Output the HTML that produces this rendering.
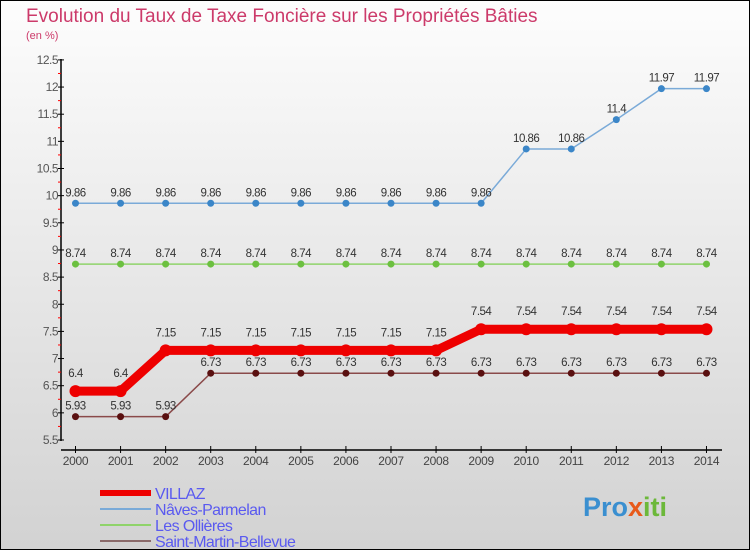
<!DOCTYPE html>
<html><head><meta charset="utf-8"><style>
body{margin:0}
#c{width:750px;height:550px;position:relative;overflow:hidden}
text{font-family:"Liberation Sans",sans-serif}
</style></head><body>
<div id="c">
<svg id="s" width="750" height="550" xmlns="http://www.w3.org/2000/svg">
<defs><linearGradient id="bg" x1="0" y1="0" x2="0" y2="1"><stop offset="0" stop-color="#fdfdfd"/><stop offset="1" stop-color="#d2d2d2"/></linearGradient></defs>
<rect x="0.5" y="0.5" width="749" height="549" fill="url(#bg)" stroke="#000"/>
<text x="26" y="22" font-size="19" fill="#cc3a6a">Evolution du Taux de Taxe Foncière sur les Propriétés Bâties</text>
<text x="26" y="39" font-size="11" fill="#cc3a6a">(en %)</text>
<g id="axes"></g><g id="series"></g><g id="legend"></g>
<text x="583" y="516" font-size="27" font-weight="bold" fill="#3a8fd0">Pro<tspan fill="#e85a1a">x</tspan><tspan fill="#6cb83a">iti</tspan></text>
</svg></div>
<script>
const years=[2000,2001,2002,2003,2004,2005,2006,2007,2008,2009,2010,2011,2012,2013,2014];
const villaz=[6.4,6.4,7.15,7.15,7.15,7.15,7.15,7.15,7.15,7.54,7.54,7.54,7.54,7.54,7.54];
const naves=[9.86,9.86,9.86,9.86,9.86,9.86,9.86,9.86,9.86,9.86,10.86,10.86,11.4,11.97,11.97];
const ollieres=[8.74,8.74,8.74,8.74,8.74,8.74,8.74,8.74,8.74,8.74,8.74,8.74,8.74,8.74,8.74];
const stmartin=[5.93,5.93,5.93,6.73,6.73,6.73,6.73,6.73,6.73,6.73,6.73,6.73,6.73,6.73,6.73];
const yTicks=[5.5,6,6.5,7,7.5,8,8.5,9,9.5,10,10.5,11,11.5,12,12.5];
const NS="http://www.w3.org/2000/svg";
function xs(i){return 75.5+i*45.07;}
function ys(v){return 440-(v-5.5)*54.3;}
function mk(tag,at,p){const e=document.createElementNS(NS,tag);for(const k in at)e.setAttribute(k,at[k]);p.appendChild(e);return e;}
const ax=document.getElementById('axes');
let yl=mk('line',{x1:61,y1:59,x2:61,y2:441,stroke:'#000','stroke-width':1.5},ax);


yTicks.forEach((v,i)=>{
 const t=mk('line',{x1:58,y1:ys(v),x2:64,y2:ys(v),stroke:'#000'},ax);
 
 
 if(i<yTicks.length-1){
 const m=mk('line',{x1:58,y1:ys(v+0.25),x2:61,y2:ys(v+0.25),stroke:'#f00'},ax);
 
 
 }
 const l=mk('text',{x:58,y:ys(v)+4,'font-size':12,fill:'#555','text-anchor':'end','letter-spacing':'-0.5'},ax);
 l.textContent=v;
 
 
});
let xl=mk('line',{x1:61,y1:450,x2:722,y2:450,stroke:'#000','stroke-width':1.5},ax);


years.forEach((y,i)=>{
 const t=mk('line',{x1:xs(i),y1:446,x2:xs(i),y2:453,stroke:'#000'},ax);
 
 
 const l=mk('text',{x:xs(i),y:465,'font-size':12,fill:'#444','text-anchor':'middle','letter-spacing':'-0.3'},ax);
 l.textContent=y;
 
 
});
const sg=document.getElementById('series');
function series(data,name,color,w,r,dot,labOff){
 const g=mk('g',{},sg);
 
 
 const ln=mk('polyline',{points:data.map((v,i)=>xs(i)+','+ys(v)).join(' '),fill:'none',stroke:color,'stroke-width':w,'stroke-linejoin':'round'},g);
 
 
 data.forEach((v,i)=>{
  const c=mk('circle',{cx:xs(i),cy:ys(v),r:r,fill:dot},g);
  
  
  const t=mk('text',{x:xs(i),y:ys(v)+labOff,'font-size':11.5,fill:'#333','text-anchor':'middle','letter-spacing':'-0.5'},g);
  t.textContent=v;
  
  
 });
}
series(ollieres,'les-ollieres','#8fd36a',1.5,3.5,'#6cc040',-7);
series(naves,'naves-parmelan','#7aaad8',1.5,3.5,'#3b86c8',-7);
series(stmartin,'saint-martin-bellevue','#8a4a4a',1.5,3.5,'#5a1010',-7);
series(villaz,'villaz','#ee0000',9,6,'#ee0000',-14);
const lg=document.getElementById('legend');
const items=[['VILLAZ','#ee0000',6],['Nâves-Parmelan','#7aaad8',2],['Les Ollières','#8fd36a',2],['Saint-Martin-Bellevue','#8a6a6a',2]];
items.forEach((it,i)=>{
 const y=493+i*16;
 const l=mk('line',{x1:100,y1:y,x2:151,y2:y,stroke:it[1],'stroke-width':it[2]},lg);
 
 
 const t=mk('text',{x:155,y:y+6,'font-size':16,fill:'#5a5af0','letter-spacing':'-0.6'},lg);
 t.textContent=it[0];
 
 
});
</script>
</body></html>
